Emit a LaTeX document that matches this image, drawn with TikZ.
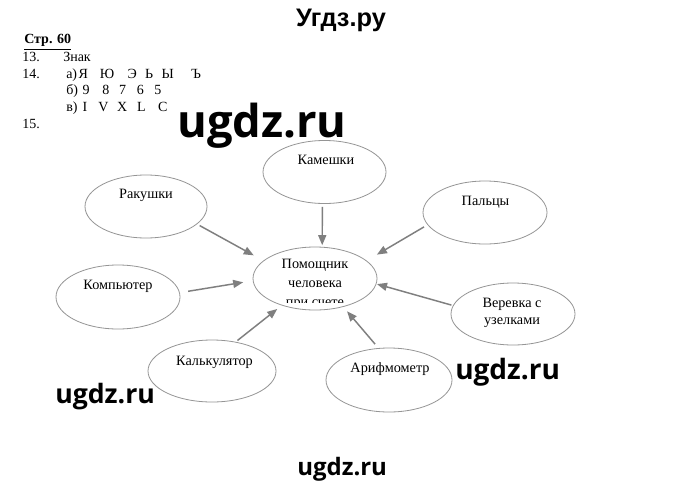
\documentclass[tikz,border=0pt]{standalone}
\usepackage{fontspec}
\setmainfont{Liberation Serif}
\newfontfamily\hdrfont{Liberation Sans}
\newfontfamily\wmfont{Open Sans}
\usetikzlibrary{shapes.geometric,arrows.meta}
\definecolor{ellgray}{HTML}{959595}
\definecolor{arrgray}{HTML}{7F7F7F}
\begin{document}
\begin{tikzpicture}[x=0.75pt,y=-0.75pt,
 ell/.style 2 args={ellipse,draw=ellgray,line width=0.6pt,inner sep=0pt,outer sep=0pt,minimum width=#1*1.5pt,minimum height=#2*1.5pt},
 etxt/.style={font=\fontsize{10.7}{14.6}\selectfont,anchor=base,inner sep=0pt},
 arr/.style={draw=arrgray,line width=1.1pt,-{Triangle[length=7.5pt,width=6pt]}},
 wm/.style={anchor=base west,inner sep=0pt,font=\wmfont\bfseries\fontsize{#1}{#1}\selectfont},
 lst/.style={anchor=base west,inner sep=0pt,font=\fontsize{10.5}{12}\selectfont}]
\fill[white] (0,0) rectangle (680,485);
\useasboundingbox (0,0) rectangle (680,485);

% header
\node[anchor=base,inner sep=0pt,font=\hdrfont\bfseries\fontsize{19}{19}\selectfont] (title) at (341,27) {Угдз.ру};

% list
\node[lst,font=\bfseries\fontsize{10.5}{12}\selectfont] (p60) at (24,44) {\underline{Стр. 60}};
\node[lst] (n13) at (22,61) {13.};
\node[lst] (t13) at (63,61) {Знак};
\node[lst] (n14) at (22,78) {14.};
\node[lst] (a14) at (66,78) {а)\hspace{1.2pt}Я\hspace{8.8pt}Ю\hspace{10pt}Э\hspace{6.3pt}Ь\hspace{6.3pt}Ы\hspace{13pt}Ъ};
\node[lst] (b14) at (66,94) {б)\hspace{3.5pt}9\hspace{9.5pt}8\hspace{7.3pt}7\hspace{8pt}6\hspace{8pt}5};
\node[lst] (v14) at (66,111) {в)\hspace{3.8pt}I\hspace{8.3pt}V\hspace{6.6pt}X\hspace{7.4pt}L\hspace{9.3pt}C};
\node[lst] (n15) at (22,128) {15.};

% ellipses
\node[ell={61.5}{31.5}] (kam) at (324.5,172) {};
\node[ell={61}{31.5}] (rak) at (146,206.5) {};
\node[ell={62}{31.5}] (pal) at (485,212.5) {};
\node[ell={62}{32}] (com) at (118,297) {};
\node[ell={62}{31.5}] (ctr) at (315,278.5) {};
\node[ell={62}{31}] (ver) at (513,314) {};
\node[ell={64}{31}] (kal) at (212,371) {};
\node[ell={63}{32}] (ari) at (389,380) {};

% texts
\node[etxt] (kamT) at (326,164) {Камешки};
\node[etxt] (rakT) at (146,198) {Ракушки};
\node[etxt] (palT) at (485.5,205) {Пальцы};
\node[etxt] (comT) at (118,289) {Компьютер};
\node[etxt] (ctrT1) at (315,268) {Помощник};
\node[etxt] (ctrT2) at (315,287) {человека};
\begin{scope}
\clip (250,240) rectangle (380,302.5);
\node[etxt] (ctrT3) at (315,306) {при счете};
\end{scope}
\node[etxt] (verT1) at (512,307) {Веревка с};
\node[etxt] (verT2) at (512,324) {узелками};
\node[etxt] (kalT) at (214.5,365) {Калькулятор};
\node[etxt] (ariT) at (390,372) {Арифмометр};

% arrows
\draw[arr,shorten <=2.5pt,shorten >=8.5pt] (rak.-19) -- (ctr.161);
\draw[arr,shorten <=2.6pt,shorten >=1.5pt] (kam.-94.5) -- (ctr.77.4);
\draw[arr,shorten <=3.3pt,shorten >=9.2pt] (pal.-168.6) -- (ctr.19.9);
\draw[arr,shorten <=6.6pt,shorten >=7.6pt] (com.4.9) -- (ctr.-178);
\draw[arr,shorten <=1.5pt,shorten >=0.7pt] (ver.172.5) -- (ctr.-5.1);
\draw[arr,shorten <=2pt,shorten >=4.6pt] (kal.51.1) -- (ctr.-141.2);
\draw[arr,shorten <=4.3pt,shorten >=4.6pt] (ari.108) -- (ctr.-45.4);

% watermarks
\node[wm=34] (wm1) at (177,137) {ugdz.ru};
\node[wm=20] (wm2) at (55,403) {ugdz.ru};
\node[wm=21] (wm3) at (455,379) {ugdz.ru};
\node[wm=18] (wm4) at (297,475) {ugdz.ru};
\end{tikzpicture}
\end{document}
